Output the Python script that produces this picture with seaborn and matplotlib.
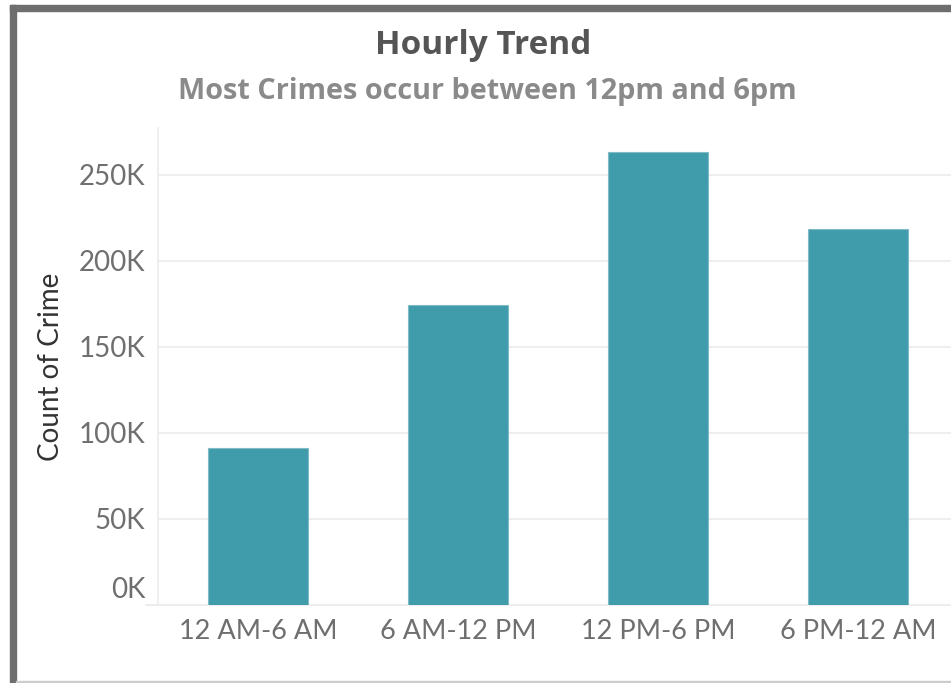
import matplotlib
matplotlib.use("Agg")
import matplotlib.pyplot as plt
from matplotlib.patches import Rectangle
from matplotlib.transforms import ScaledTranslation
import seaborn as sns
import pandas as pd

# Crime counts per six-hour window
periods = ["12 AM-6 AM", "6 AM-12 PM", "12 PM-6 PM", "6 PM-12 AM"]
counts = [91000, 174300, 263500, 218300]
ytick_values = [0, 50000, 100000, 150000, 200000, 250000]
ytick_labels = ["0K", "50K", "100K", "150K", "200K", "250K"]

title = "Hourly Trend"
subtitle = "Most Crimes occur between 12pm and 6pm"
ylabel = "Count of Crime"

df = pd.DataFrame({"period": periods, "count": counts})

sns.set_theme(style="white")
plt.rcParams["font.family"] = ["Lato", "DejaVu Sans"]

W, H = 951, 683
fig = plt.figure(figsize=(W / 100, H / 100), dpi=100)
fig.patch.set_facecolor("white")

# plot area in pixel terms (from top-left): x 158..958, y 128..605
left_px, right_px, top_px, base_px = 158, 958, 128, 605
ax = fig.add_axes([left_px / W, (H - base_px) / H,
                   (right_px - left_px) / W, (base_px - top_px) / H])

bar_color = "#409BAA"
sns.barplot(data=df, x="period", y="count", color=bar_color, width=0.5,
            saturation=1, ax=ax, edgecolor="#7fbcc6", linewidth=0.8)

ax.set_xlim(-0.5, 3.5)
ax.set_ylim(0, 277300)

grid_color = "#efefef"
ax.set_yticks(ytick_values)
ax.set_yticklabels(ytick_labels)
ax.yaxis.grid(True, color=grid_color, linewidth=1.5)
ax.set_axisbelow(True)

for side in ["top", "right", "bottom"]:
    ax.spines[side].set_visible(False)
ax.spines["left"].set_color("#ececec")
ax.spines["left"].set_linewidth(1.2)
ax.axhline(0, color="#ececec", linewidth=1.5, zorder=0.5, clip_on=False,
           xmin=-12 / 800, xmax=1)

tick_color = "#6f6f6f"
ax.tick_params(axis="y", length=7.2, width=1.5, color=grid_color,
               labelsize=20, labelcolor=tick_color, pad=2)
ax.tick_params(axis="x", which="major", length=0, labelsize=19.5,
               labelcolor=tick_color, pad=10)
ax.set_xticks([0.5, 1.5, 2.5], minor=True)
ax.tick_params(axis="x", which="minor", length=7.2, width=1.2,
               color="#ececec")
ax.set_xlabel("")

ax.set_ylabel(ylabel, fontsize=20, color="#333333")
ax.yaxis.set_label_coords(-0.118, 0.50)

# lift the zero label clear of the baseline
zero_label = ax.get_yticklabels()[0]
zero_label.set_transform(zero_label.get_transform() +
                         ScaledTranslation(0, 0.18, fig.dpi_scale_trans))

head_font = ["Open Sans", "DejaVu Sans"]
fig.text(483 / W, 1 - 46 / H, title, ha="center", va="center",
         fontsize=24, fontweight="bold", color="#555555", family=head_font)
fig.text(487 / W, 1 - 91 / H, subtitle, ha="center", va="center",
         fontsize=20.8, fontweight="bold", color="#8a8a8a", family=head_font)

# dashboard frame
frame = "#6e6e6e"
fig.patches.append(Rectangle((10 / W, 0), 6 / W, 1 - 5 / H,
                             transform=fig.transFigure, color=frame, zorder=5))
fig.patches.append(Rectangle((10 / W, 1 - 11 / H), 1, 6 / H,
                             transform=fig.transFigure, color=frame, zorder=5))
fig.patches.append(Rectangle((16 / W, 1 / H), 1, 1.2 / H,
                             transform=fig.transFigure, color="#cccccc", zorder=5))

fig.savefig("out.png", dpi=100, facecolor="white")
